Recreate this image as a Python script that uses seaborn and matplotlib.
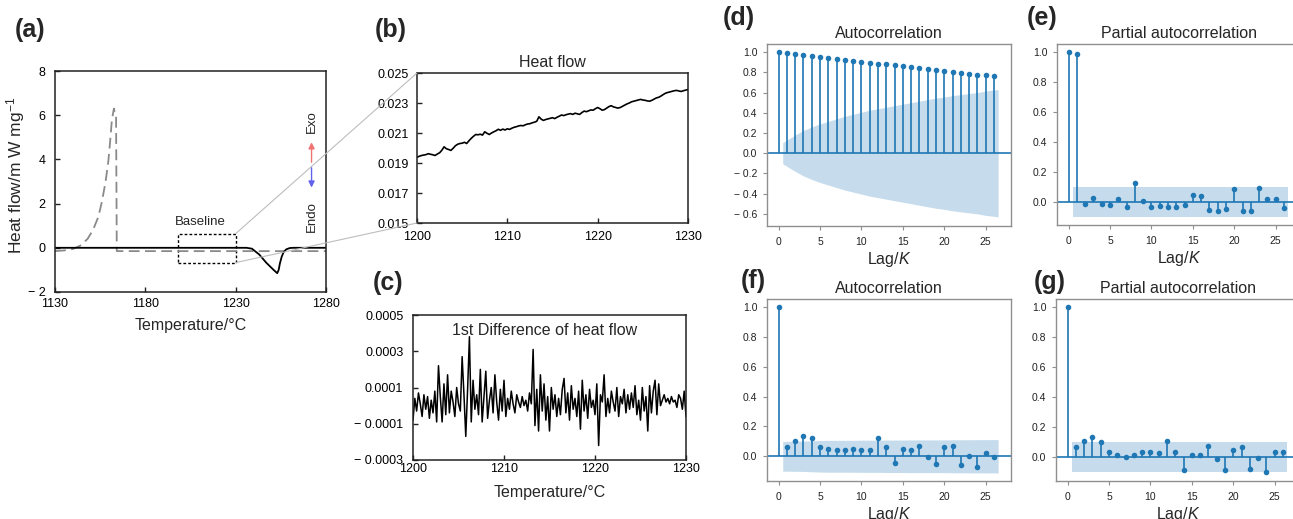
import numpy as np
import seaborn as sns
import matplotlib.pyplot as plt
from matplotlib.patches import Rectangle, ConnectionPatch

# ---- (a) DSC curves ----
heat_temp = [1130, 1180, 1236, 1239, 1243, 1247, 1251, 1253, 1253.8, 1254.5,
             1255.5, 1256.5, 1258, 1260, 1262, 1270, 1280]
heat_curve = [0, 0, 0, -0.04, -0.3, -0.68, -1.0, -1.15, -1.0, -0.7,
              -0.4, -0.2, -0.07, -0.01, 0, 0, 0]
cool_temp = [1130, 1135, 1140, 1144, 1148, 1151, 1154, 1156, 1158, 1159.5,
             1160.5, 1161.5, 1162.6, 1163.8, 1164.2, 1170, 1280]
cool_curve = [-0.15, -0.12, -0.05, 0.1, 0.4, 0.8, 1.4, 2.1, 3.0, 3.9,
              4.8, 5.8, 6.3, 5.9, -0.15, -0.15, -0.15]

# ---- (b) heat flow on the baseline, 1200-1230 C every 0.25 C (x1e-5) ----
heat_flow_e5 = [
    1938, 1945, 1950, 1953, 1956, 1962, 1958, 1955,
    1950, 1960, 1968, 1985, 2008, 1995, 1990, 1984,
    1998, 2015, 2025, 2030, 2032, 2038, 2030, 2048,
    2064, 2078, 2090, 2088, 2092, 2086, 2108, 2098,
    2090, 2100, 2108, 2115, 2125, 2118, 2126, 2120,
    2128, 2124, 2132, 2138, 2142, 2147, 2150, 2148,
    2155, 2160, 2162, 2168, 2172, 2178, 2208, 2192,
    2184, 2190, 2194, 2198, 2202, 2196, 2205, 2212,
    2220, 2216, 2222, 2226, 2229, 2224, 2232, 2228,
    2224, 2236, 2246, 2242, 2248, 2254, 2252, 2262,
    2270, 2262, 2252, 2256, 2266, 2276, 2282, 2274,
    2270, 2266, 2270, 2278, 2286, 2294, 2300, 2308,
    2312, 2316, 2320, 2324, 2320, 2318, 2314, 2312,
    2318, 2326, 2334, 2338, 2346, 2356, 2365, 2370,
    2374, 2378, 2382, 2384, 2380, 2377, 2382, 2386,
    2390]

# ---- (c) first difference, every 0.2 C (x1e-5) ----
diff_e5 = [
    -8, 4, -3, 7, 1, -6, 6, -2, 5, -7,
    3, -4, 8, -9, 22, 5, -9, 12, -5, 17,
    -4, 8, 2, -6, 10, 1, -3, 27, 6, -17,
    9, 38, -9, 14, -2, 6, -5, 20, -9, 5,
    19, -7, 3, 10, -4, 17, 2, -8, 9, -3,
    14, -6, 4, -2, 8, 1, -4, 6, 2, -1,
    5, 0, 3, -3, 7, 1, 31, -11, 9, -14,
    17, -3, 12, -8, 5, -14, 10, -2, 6, -6,
    4, -5, 9, 15, -4, 7, -8, 11, -2, 4,
    -6, 8, -13, 14, -3, 6, -7, 9, -1, 3,
    -5, 12, -22, 6, 2, 17, -6, 4, -4, 8,
    2, -3, 10, -6, 5, 1, 9, -4, 6, -2,
    7, -1, 11, -5, 3, -8, 10, -3, 5, -14,
    11, -4, 8, 14, -5, 12, 0, 3, 6, 2,
    4, 1, 5, 2, 3, -1, 6, 4, -2, 8,
    -6]

# ---- (d)-(g) correlograms, lags 0..26 ----
lags = list(range(27))
acf_raw = [1.0, 0.99, 0.98, 0.97, 0.96, 0.95, 0.94, 0.93, 0.92, 0.915, 0.905,
           0.895, 0.885, 0.88, 0.87, 0.86, 0.85, 0.84, 0.83, 0.82, 0.81, 0.80,
           0.79, 0.78, 0.775, 0.77, 0.76]
acf_raw_band = [0.105, 0.18, 0.225, 0.26, 0.29, 0.315, 0.34, 0.365, 0.385, 0.405,
                0.425, 0.44, 0.455, 0.47, 0.485, 0.50, 0.515, 0.53, 0.545, 0.555,
                0.57, 0.58, 0.59, 0.60, 0.615, 0.63]
pacf_raw = [1.0, 0.99, -0.01, 0.03, -0.01, -0.02, 0.025, -0.03, 0.13, 0.01, -0.03,
            -0.025, -0.03, -0.03, -0.02, 0.05, 0.04, -0.05, -0.055, -0.045, 0.09,
            -0.055, -0.06, 0.095, 0.025, 0.02, -0.04]
acf_diff = [1.0, 0.06, 0.105, 0.135, 0.125, 0.065, 0.05, 0.04, 0.04, 0.05, 0.045,
            0.045, 0.12, 0.06, -0.045, 0.05, 0.04, 0.07, -0.005, -0.05, 0.06,
            0.07, -0.06, 0.005, -0.07, 0.025, -0.005]
acf_diff_band = [0.100, 0.101, 0.102, 0.104, 0.106, 0.107, 0.107, 0.107, 0.107,
                 0.108, 0.108, 0.108, 0.109, 0.109, 0.109, 0.110, 0.110, 0.110,
                 0.110, 0.110, 0.111, 0.111, 0.111, 0.112, 0.112, 0.112]
pacf_diff = [1.0, 0.065, 0.105, 0.13, 0.10, 0.03, 0.015, 0.0, 0.01, 0.035, 0.03,
             0.025, 0.105, 0.03, -0.09, 0.015, 0.015, 0.07, -0.015, -0.085, 0.045,
             0.065, -0.08, -0.01, -0.10, 0.03, 0.03]
pacf_band = 0.1

MINUS = "\u2212 "
C0 = "#1f77b4"
W, H = 1293, 519

sns.set_theme(style="ticks")
plt.rcParams["font.family"] = ["Liberation Sans", "DejaVu Sans"]
plt.rcParams["mathtext.fontset"] = "custom"
plt.rcParams["mathtext.rm"] = "Liberation Sans"
plt.rcParams["mathtext.it"] = "Liberation Sans:italic"

fig = plt.figure(figsize=(W / 100, H / 100), dpi=100)


def box(left, top, right, bottom):
    return [left / W, 1 - bottom / H, (right - left) / W, (bottom - top) / H]


def frame(ax, xpad, ypad):
    for s in ax.spines.values():
        s.set_color("#222222")
        s.set_linewidth(1.1)
    ax.tick_params(direction="in", length=3.5, width=1, labelsize=9, colors="#222222")
    ax.tick_params(axis="x", pad=xpad)
    ax.tick_params(axis="y", pad=ypad)
    for lab in ax.get_xticklabels() + ax.get_yticklabels():
        lab.set_color("black")


# ---------------- (a) ----------------
ax_a = fig.add_axes(box(55, 71, 326, 292))
sns.lineplot(x=cool_temp, y=cool_curve, ax=ax_a, color="#8a8a8a", lw=1.3,
             linestyle=(0, (6, 3)))
sns.lineplot(x=heat_temp, y=heat_curve, ax=ax_a, color="black", lw=1.3)
ax_a.set_xlim(1130, 1280)
ax_a.set_ylim(-2, 8)
ax_a.set_xticks([1130, 1180, 1230, 1280])
ax_a.set_yticks([-2, 0, 2, 4, 6, 8])
ax_a.set_yticklabels([MINUS + "2", "0", "2", "4", "6", "8"])
frame(ax_a, 4, 7)
ax_a.set_xlabel("Temperature/°C", fontsize=11.5, labelpad=6)
ax_a.set_ylabel("Heat flow/m W mg$^{-1}$", fontsize=12.5)
ax_a.yaxis.set_label_coords(-0.105, 0.53)
ax_a.add_patch(Rectangle((1198, -0.67), 32, 1.31, fill=False, ec="black", lw=1,
                         ls=(0, (2, 1.5))))
ax_a.text(1210.7, 1.16, "Baseline", ha="center", va="center", fontsize=9.5)
ax_a.annotate("", xy=(1272, 4.9), xytext=(1272, 3.75),
              arrowprops=dict(arrowstyle="-|>", color="#ef7373", lw=1, mutation_scale=9))
ax_a.annotate("", xy=(1272, 2.6), xytext=(1272, 3.75),
              arrowprops=dict(arrowstyle="-|>", color="#6262ee", lw=1, mutation_scale=9))
ax_a.text(1272, 5.7, "Exo", rotation=90, ha="center", va="center", fontsize=9.5)
ax_a.text(1272, 1.42, "Endo", rotation=90, ha="center", va="center", fontsize=9.5)

# ---------------- (b) ----------------
ax_b = fig.add_axes(box(417, 73, 688, 223))
hf_temp = 1200 + 0.25 * np.arange(len(heat_flow_e5))
sns.lineplot(x=hf_temp, y=np.array(heat_flow_e5) * 1e-5, ax=ax_b, color="black", lw=1.2)
ax_b.set_xlim(1200, 1230)
ax_b.set_ylim(0.015, 0.025)
ax_b.set_xticks([1200, 1210, 1220, 1230])
ax_b.set_yticks([0.015, 0.017, 0.019, 0.021, 0.023, 0.025])
ax_b.set_yticklabels(["0.015", "0.017", "0.019", "0.021", "0.023", "0.025"])
frame(ax_b, 6, 6)
ax_b.set_title("Heat flow", fontsize=11.5, pad=4)

# zoom lines from the baseline box to (b)
for ya, yb in [(0.64, 1), (-0.67, 0)]:
    con = ConnectionPatch(xyA=(1230, ya), coordsA=ax_a.transData, xyB=(0, yb),
                          coordsB=ax_b.transAxes, color="#bdbdbd", lw=0.8)
    fig.add_artist(con)

# ---------------- (c) ----------------
ax_c = fig.add_axes(box(413, 315, 686, 460))
diff_temp = 1200 + 0.2 * np.arange(len(diff_e5))
sns.lineplot(x=diff_temp, y=np.array(diff_e5) * 1e-5, ax=ax_c, color="black", lw=1.1)
ax_c.set_xlim(1200, 1230)
ax_c.set_ylim(-0.0003, 0.0005)
ax_c.set_xticks([1200, 1210, 1220, 1230])
ax_c.set_yticks([0.0005, 0.0003, 0.0001, -0.0001, -0.0003])
ax_c.set_yticklabels(["0.0005", "0.0003", "0.0001", MINUS + "0.0001", MINUS + "0.0003"])
frame(ax_c, 2, 7)
ax_c.text(0.481, 0.89, "1st Difference of heat flow", transform=ax_c.transAxes,
          ha="center", va="center", fontsize=11.5)
ax_c.set_xlabel("Temperature/°C", fontsize=11.5, labelpad=7)


# ---------------- (d)-(g) ----------------
def correlogram(rect, vals, band, title, ylim, yticks):
    ax = fig.add_axes(rect)
    x = np.array(lags, dtype=float)
    bx = x[1:].copy()
    bx[0] -= 0.5
    bx[-1] += 0.5
    bw = np.broadcast_to(np.asarray(band, dtype=float), bx.shape)
    ax.fill_between(bx, -bw, bw, color=C0, alpha=0.25, lw=0)
    ax.axhline(0, color=C0, lw=1.2)
    ax.vlines(x, 0, vals, color=C0, lw=1.2)
    sns.scatterplot(x=x, y=vals, ax=ax, color=C0, s=16, linewidth=0, zorder=3)
    ax.set_xlim(-1.4, 28.05)
    ax.set_ylim(*ylim)
    ax.set_xticks([0, 5, 10, 15, 20, 25])
    ax.set_yticks(yticks)
    ax.set_yticklabels([(MINUS + f"{abs(v):.1f}") if v < 0 else f"{v:.1f}" for v in yticks])
    for s in ax.spines.values():
        s.set_color("#8f8f8f")
        s.set_linewidth(1)
    ax.tick_params(direction="out", length=3, width=0.8, colors="#8f8f8f",
                   labelsize=7.5, labelcolor="#222222")
    ax.tick_params(axis="x", pad=5)
    ax.tick_params(axis="y", pad=4)
    ax.set_title(title, fontsize=11.5, pad=4)
    ax.set_xlabel("Lag/$K$", fontsize=11.5, labelpad=2)
    return ax


yt_d = [-0.6, -0.4, -0.2, 0.0, 0.2, 0.4, 0.6, 0.8, 1.0]
yt_small = [0.0, 0.2, 0.4, 0.6, 0.8, 1.0]
correlogram(box(767, 44, 1011, 226), acf_raw, acf_raw_band, "Autocorrelation",
            (-0.72, 1.08), yt_d)
correlogram(box(1057, 44, 1301, 225), pacf_raw, pacf_band, "Partial autocorrelation",
            (-0.15, 1.055), yt_small)
correlogram(box(767, 299, 1011, 481), acf_diff, acf_diff_band, "Autocorrelation",
            (-0.166, 1.056), yt_small)
correlogram(box(1056, 299, 1300, 481), pacf_diff, pacf_band, "Partial autocorrelation",
            (-0.16, 1.053), yt_small)

# panel letters
for lab, px, py in [("(a)", 15, 30), ("(b)", 375, 30), ("(c)", 373, 283),
                    ("(d)", 723, 18), ("(e)", 1027, 18), ("(f)", 741, 281),
                    ("(g)", 1034, 282)]:
    fig.text(px / W, 1 - py / H, lab, fontsize=18, fontweight="bold",
             ha="left", va="center")

fig.savefig("out.png", dpi=100)
